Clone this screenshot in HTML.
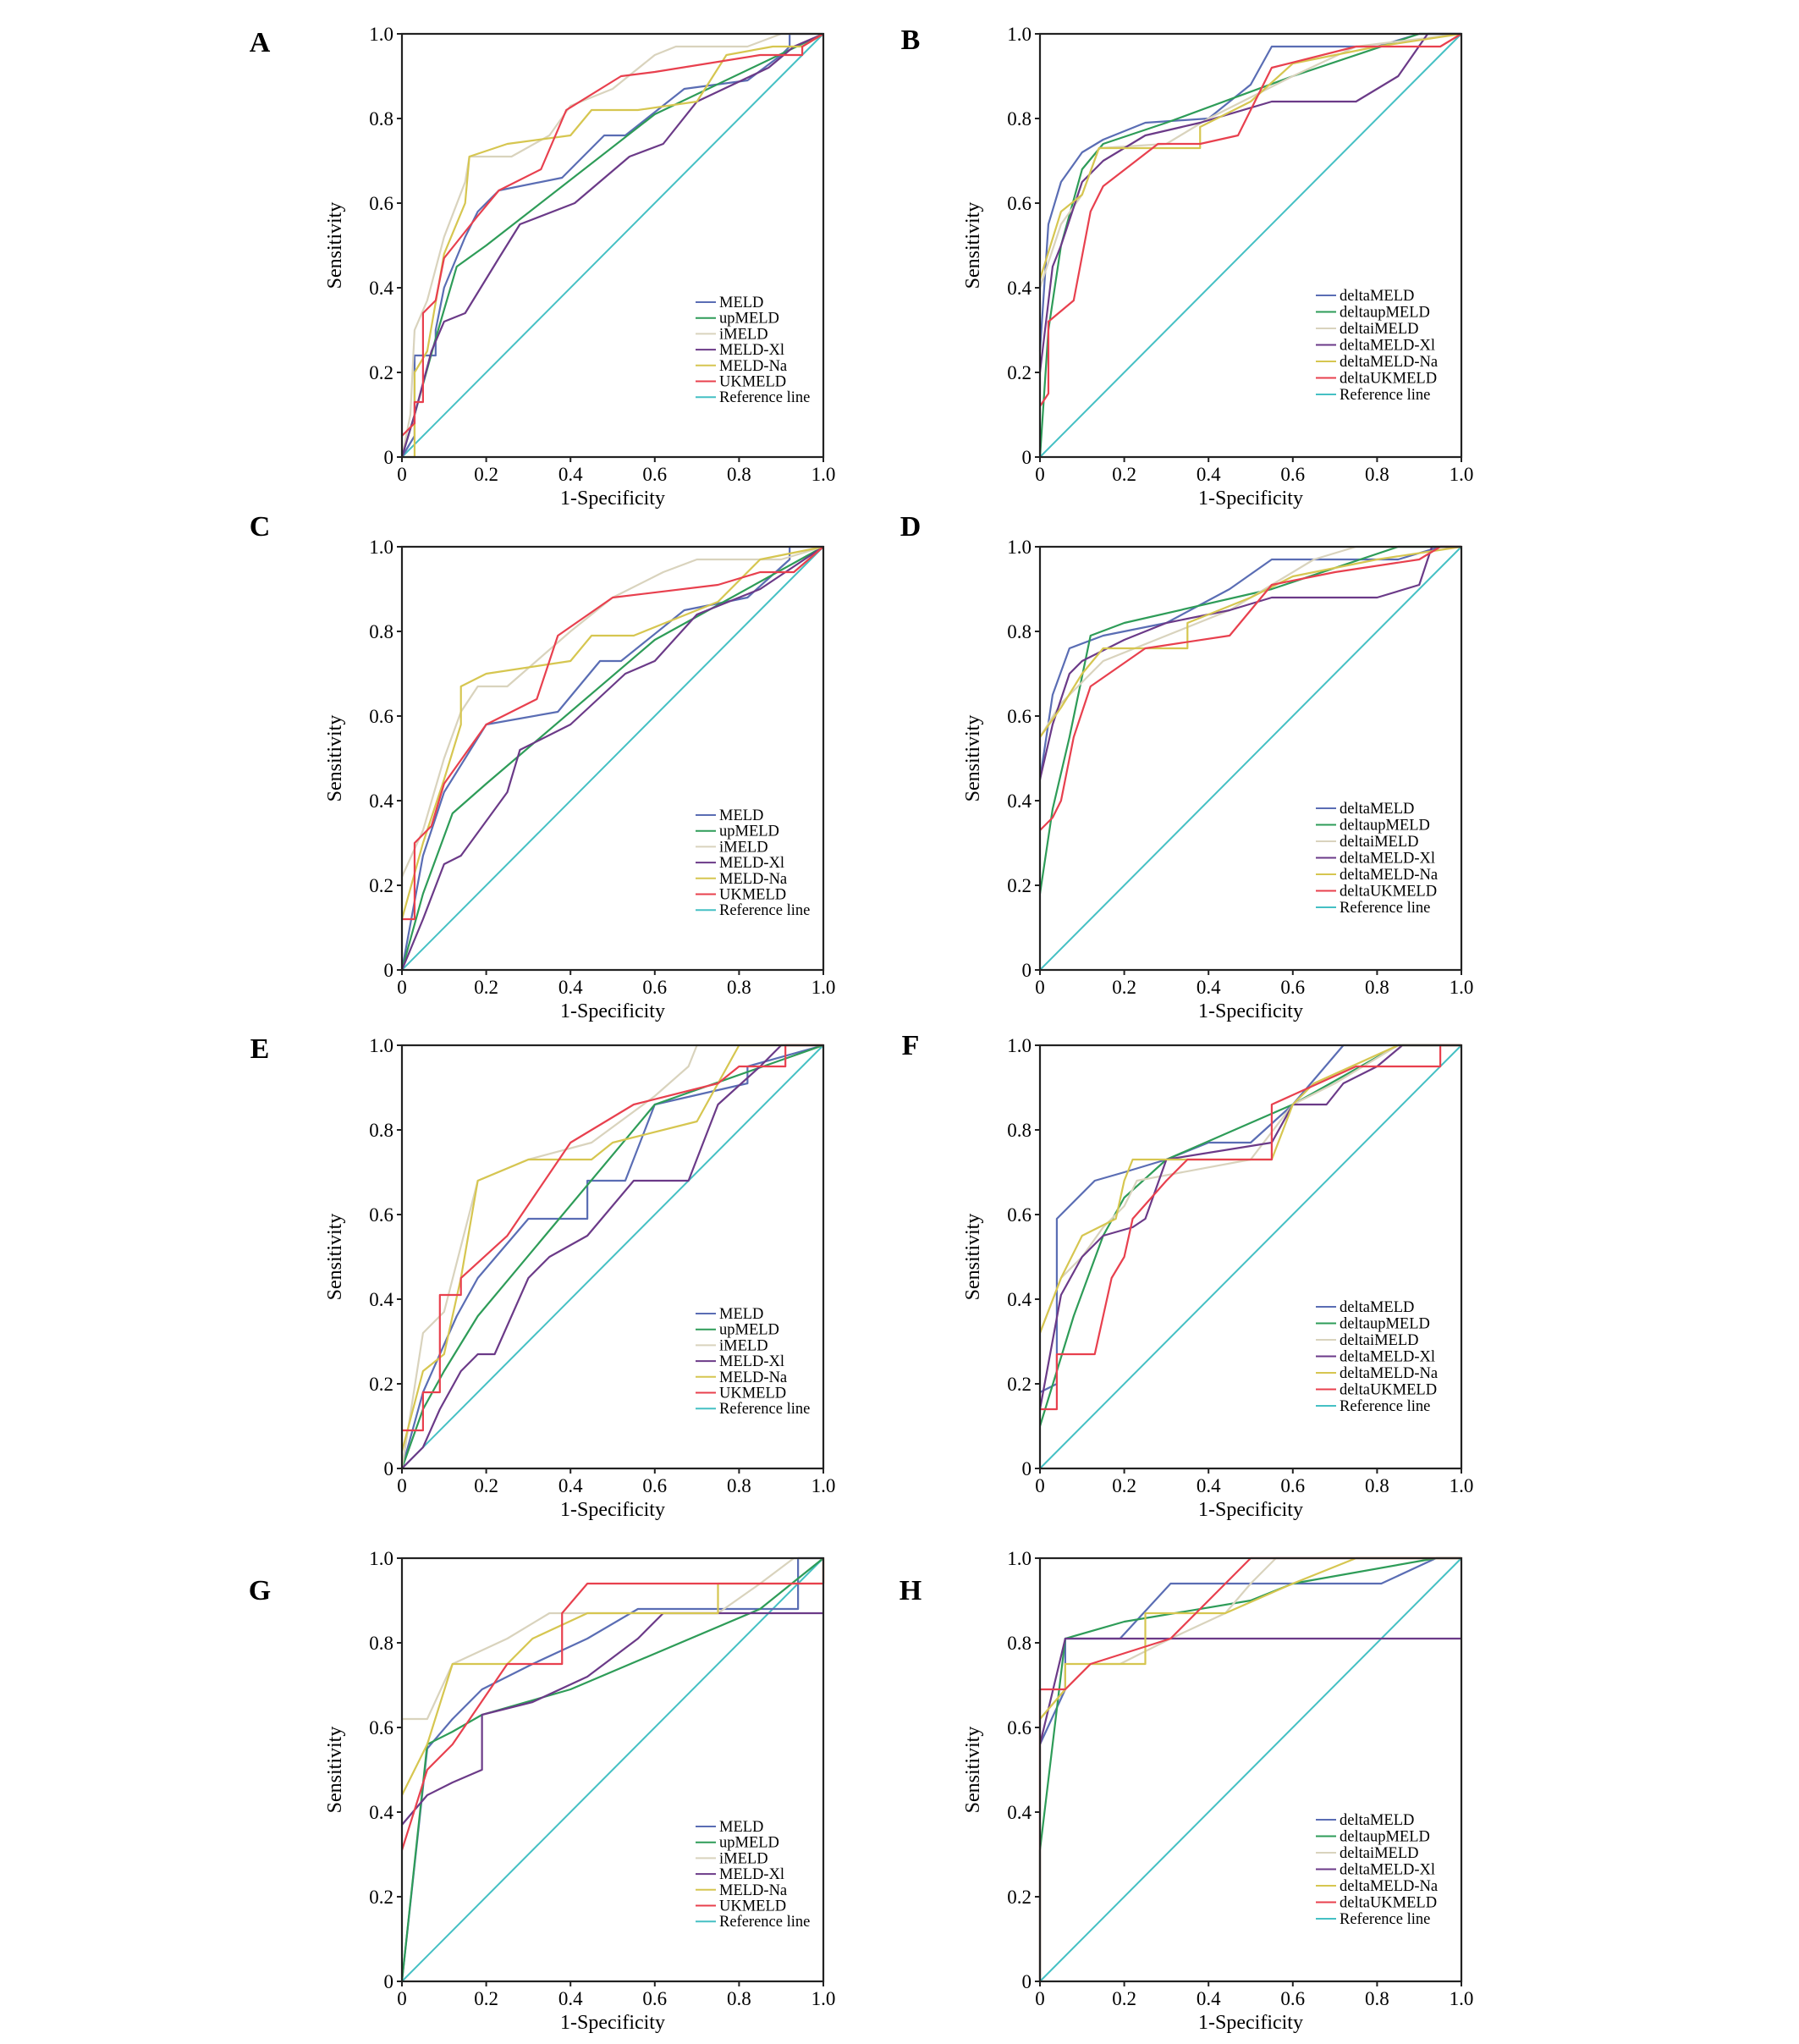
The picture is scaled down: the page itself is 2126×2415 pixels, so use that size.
<!DOCTYPE html>
<html><head><meta charset="utf-8">
<style>
html,body{margin:0;padding:0;background:#fff;}
svg{display:block;font-family:"Liberation Serif",serif;}
</style></head>
<body>
<svg id="fig" width="2126" height="2415" viewBox="0 0 2126 2415" xmlns="http://www.w3.org/2000/svg"></svg>
<script>
const ticks = [0, 0.2, 0.4, 0.6, 0.8, 1.0];
const tickLabels = ["0", "0.2", "0.4", "0.6", "0.8", "1.0"];
const leftNames = ["MELD","upMELD","iMELD","MELD-Xl","MELD-Na","UKMELD"];
const rightNames = ["deltaMELD","deltaupMELD","deltaiMELD","deltaMELD-Xl","deltaMELD-Na","deltaUKMELD"];
const colors = ["#5a6db4","#2e9c58","#d9d3bd","#6b3a88","#d6c650","#e8404e"];

const A_MELD = [[0,0],[.03,.05],[.03,.24],[.08,.24],[.08,.3],[.1,.4],[.15,.52],[.18,.58],[.23,.63],[.38,.66],[.48,.76],[.53,.76],[.67,.87],[.82,.89],[.9,.95],[.92,.97],[.92,1],[1,1]];
const A_UP = [[0,0],[.03,.1],[.08,.28],[.13,.45],[.2,.5],[.6,.81],[1,1]];
const A_I = [[0,0],[.02,.1],[.03,.3],[.06,.37],[.1,.52],[.15,.65],[.16,.71],[.26,.71],[.35,.76],[.4,.83],[.5,.87],[.6,.95],[.65,.97],[.82,.97],[.9,1],[1,1]];
const A_XI = [[0,0],[.03,.1],[.07,.25],[.1,.32],[.15,.34],[.23,.47],[.28,.55],[.41,.6],[.54,.71],[.62,.74],[.7,.84],[.87,.92],[.93,.97],[1,1]];
const A_NA = [[0,0],[.03,0],[.03,.2],[.06,.25],[.1,.48],[.15,.6],[.16,.71],[.25,.74],[.4,.76],[.45,.82],[.56,.82],[.7,.84],[.77,.95],[.88,.97],[.95,.97],[1,1]];
const A_UK = [[0,.05],[.03,.08],[.03,.13],[.05,.13],[.05,.34],[.08,.37],[.1,.47],[.18,.57],[.23,.63],[.33,.68],[.39,.82],[.52,.9],[.6,.91],[.85,.95],[.95,.95],[.95,.97],[1,1]];

const B_MELD = [[0,.25],[.02,.55],[.05,.65],[.1,.72],[.15,.75],[.25,.79],[.4,.8],[.5,.88],[.55,.97],[.8,.97],[.9,1],[1,1]];
const B_UP = [[0,0],[.02,.3],[.05,.5],[.1,.68],[.15,.74],[.3,.79],[.6,.9],[.9,1],[1,1]];
const B_I = [[0,.4],[.05,.55],[.1,.62],[.14,.73],[.3,.74],[.4,.8],[.6,.9],[.75,.97],[1,1]];
const B_XI = [[0,.2],[.03,.45],[.05,.5],[.1,.65],[.15,.7],[.25,.76],[.38,.79],[.55,.84],[.75,.84],[.85,.9],[.92,1],[1,1]];
const B_NA = [[0,.42],[.05,.58],[.1,.62],[.14,.73],[.38,.73],[.38,.78],[.5,.84],[.6,.93],[.8,.97],[1,1]];
const B_UK = [[0,.12],[.02,.15],[.02,.32],[.08,.37],[.12,.58],[.15,.64],[.28,.74],[.38,.74],[.47,.76],[.55,.92],[.75,.97],[.95,.97],[1,1]];

const C_MELD = [[0,0],[.05,.27],[.1,.42],[.2,.58],[.37,.61],[.47,.73],[.52,.73],[.67,.85],[.82,.88],[.92,.97],[.92,1],[1,1]];
const C_UP = [[0,0],[.05,.18],[.12,.37],[.2,.44],[.6,.78],[1,1]];
const C_I = [[0,.22],[.05,.33],[.1,.5],[.14,.61],[.18,.67],[.25,.67],[.4,.8],[.5,.88],[.62,.94],[.7,.97],[.9,.97],[1,1]];
const C_XI = [[0,0],[.05,.12],[.1,.25],[.14,.27],[.25,.42],[.28,.52],[.4,.58],[.53,.7],[.6,.73],[.7,.84],[.85,.9],[1,1]];
const C_NA = [[0,.12],[.05,.3],[.1,.45],[.14,.58],[.14,.67],[.2,.7],[.4,.73],[.45,.79],[.55,.79],[.75,.87],[.85,.97],[1,1]];
const C_UK = [[0,.12],[.03,.12],[.03,.3],[.07,.34],[.1,.44],[.2,.58],[.32,.64],[.37,.79],[.5,.88],[.75,.91],[.85,.94],[.93,.94],[1,1]];

const D_MELD = [[0,.45],[.03,.65],[.07,.76],[.15,.79],[.3,.82],[.45,.9],[.55,.97],[.85,.97],[.95,1],[1,1]];
const D_UP = [[0,.18],[.03,.38],[.07,.55],[.12,.79],[.2,.82],[.55,.9],[.85,1],[1,1]];
const D_I = [[0,.55],[.05,.63],[.1,.68],[.15,.73],[.3,.79],[.45,.85],[.65,.97],[.75,1],[1,1]];
const D_XI = [[0,.45],[.03,.58],[.07,.7],[.1,.73],[.2,.78],[.3,.82],[.45,.85],[.55,.88],[.8,.88],[.9,.91],[.93,1],[1,1]];
const D_NA = [[0,.55],[.05,.62],[.1,.7],[.15,.76],[.35,.76],[.35,.82],[.5,.88],[.6,.93],[.8,.97],[1,1]];
const D_UK = [[0,.33],[.03,.36],[.05,.4],[.08,.55],[.12,.67],[.25,.76],[.45,.79],[.55,.91],[.7,.94],[.9,.97],[.95,1],[1,1]];

const E_MELD = [[0,0],[.05,.18],[.09,.27],[.13,.36],[.18,.45],[.3,.59],[.44,.59],[.44,.68],[.53,.68],[.6,.86],[.82,.91],[.82,.95],[1,1]];
const E_UP = [[0,0],[.05,.14],[.1,.23],[.18,.36],[.6,.86],[1,1]];
const E_I = [[0,0],[.05,.32],[.1,.37],[.18,.68],[.3,.73],[.45,.77],[.6,.88],[.68,.95],[.7,1],[1,1]];
const E_XI = [[0,0],[.05,.05],[.09,.14],[.14,.23],[.18,.27],[.22,.27],[.3,.45],[.35,.5],[.44,.55],[.55,.68],[.68,.68],[.75,.86],[.85,.95],[.9,1],[1,1]];
const E_NA = [[0,.04],[.05,.23],[.1,.27],[.14,.45],[.18,.68],[.3,.73],[.45,.73],[.5,.77],[.7,.82],[.8,1],[1,1]];
const E_UK = [[0,.09],[.05,.09],[.05,.18],[.09,.18],[.09,.41],[.14,.41],[.14,.45],[.25,.55],[.4,.77],[.55,.86],[.75,.91],[.8,.95],[.91,.95],[.91,1],[1,1]];

const F_MELD = [[0,.18],[.04,.2],[.04,.59],[.13,.68],[.2,.7],[.3,.73],[.4,.77],[.5,.77],[.6,.86],[.72,1],[1,1]];
const F_UP = [[0,.1],[.08,.36],[.15,.55],[.2,.64],[.3,.73],[.6,.86],[.85,1],[1,1]];
const F_I = [[0,.32],[.05,.45],[.1,.5],[.15,.57],[.2,.62],[.23,.68],[.5,.73],[.6,.86],[.7,.91],[.85,1],[1,1]];
const F_XI = [[0,.14],[.05,.41],[.1,.5],[.15,.55],[.22,.57],[.25,.59],[.3,.73],[.55,.77],[.6,.86],[.68,.86],[.72,.91],[.8,.95],[.86,1],[1,1]];
const F_NA = [[0,.32],[.05,.45],[.1,.55],[.18,.59],[.2,.68],[.22,.73],[.55,.73],[.6,.86],[.65,.91],[.85,1],[1,1]];
const F_UK = [[0,.14],[.04,.14],[.04,.27],[.13,.27],[.17,.45],[.2,.5],[.22,.59],[.3,.68],[.35,.73],[.55,.73],[.55,.86],[.75,.95],[.95,.95],[.95,1],[1,1]];

const G_MELD = [[0,0],[.06,.55],[.12,.62],[.19,.69],[.31,.75],[.44,.81],[.56,.88],[.94,.88],[.94,1],[1,1]];
const G_UP = [[0,0],[.06,.56],[.12,.59],[.19,.63],[.4,.69],[.85,.88],[1,1]];
const G_I = [[0,.62],[.06,.62],[.12,.75],[.25,.81],[.35,.87],[.75,.87],[.85,.94],[.93,1],[1,1]];
const G_XI = [[0,.37],[.06,.44],[.12,.47],[.19,.5],[.19,.63],[.31,.66],[.44,.72],[.56,.81],[.62,.87],[1,.87]];
const G_NA = [[0,.44],[.06,.56],[.12,.75],[.25,.75],[.31,.81],[.44,.87],[.75,.87],[.75,.94],[1,.94],[1,1]];
const G_UK = [[0,.31],[.06,.5],[.12,.56],[.25,.75],[.38,.75],[.38,.87],[.44,.94],[1,.94],[1,1]];

const H_MELD = [[0,.56],[.06,.69],[.06,.81],[.19,.81],[.31,.94],[.81,.94],[.94,1],[1,1]];
const H_UP = [[0,0],[0,.31],[.06,.81],[.2,.85],[.5,.9],[.6,.94],[.94,1],[1,1]];
const H_I = [[0,.62],[.06,.69],[.12,.75],[.19,.75],[.31,.81],[.44,.87],[.5,.94],[.56,1],[1,1]];
const H_XI = [[0,.56],[.06,.81],[1,.81]];
const H_NA = [[0,.62],[.06,.69],[.06,.75],[.25,.75],[.25,.87],[.44,.87],[.6,.94],[.75,1],[1,1]];
const H_UK = [[0,0],[0,.69],[.06,.69],[.12,.75],[.31,.81],[.5,1],[1,1]];

const panels = [
 {id:"A",x:475,y:40,letterX:307,letterY:49,names:leftNames,series:[A_MELD,A_UP,A_I,A_XI,A_NA,A_UK]},
 {id:"B",x:1229,y:40,letterX:1076,letterY:46,names:rightNames,series:[B_MELD,B_UP,B_I,B_XI,B_NA,B_UK]},
 {id:"C",x:475,y:646,letterX:307,letterY:621,names:leftNames,series:[C_MELD,C_UP,C_I,C_XI,C_NA,C_UK]},
 {id:"D",x:1229,y:646,letterX:1076,letterY:621,names:rightNames,series:[D_MELD,D_UP,D_I,D_XI,D_NA,D_UK]},
 {id:"E",x:475,y:1235,letterX:307,letterY:1238,names:leftNames,series:[E_MELD,E_UP,E_I,E_XI,E_NA,E_UK]},
 {id:"F",x:1229,y:1235,letterX:1076,letterY:1234,names:rightNames,series:[F_MELD,F_UP,F_I,F_XI,F_NA,F_UK]},
 {id:"G",x:475,y:1841,letterX:307,letterY:1878,names:leftNames,series:[G_MELD,G_UP,G_I,G_XI,G_NA,G_UK]},
 {id:"H",x:1229,y:1841,letterX:1076,letterY:1878,names:rightNames,series:[H_MELD,H_UP,H_I,H_XI,H_NA,H_UK]}
];
const W = 498, H = 500;
const NS = "http://www.w3.org/2000/svg";
const svg = document.getElementById("fig");
function mk(tag, attrs, parent){
  const e = document.createElementNS(NS, tag);
  for (const k in attrs) e.setAttribute(k, attrs[k]);
  parent.appendChild(e);
  return e;
}
panels.forEach(p => {
  const g = mk("g", {}, svg);
  
  
  const sx = v => p.x + v * W;
  const sy = v => p.y + H - v * H;
  const letter = mk("text", {x: p.letterX, y: p.letterY + 12, "font-size": 34, "font-weight": "bold", "text-anchor": "middle"}, g);
  letter.textContent = p.id;
  
  
  const ref = mk("line", {x1: sx(0), y1: sy(0), x2: sx(1), y2: sy(1), stroke: "#45c0c4", "stroke-width": 2}, g);
  
  
  p.series.forEach((s, i) => {
    const pl = mk("polyline", {points: s.map(pt => sx(pt[0]) + "," + sy(pt[1])).join(" "), fill: "none", stroke: colors[i], "stroke-width": 2.2, "stroke-linejoin": "round"}, g);
    
    
  });
  const fr = mk("rect", {x: p.x, y: p.y, width: W, height: H, fill: "none", stroke: "#222", "stroke-width": 2.2}, g);
  
  
  ticks.forEach((t, i) => {
    mk("line", {x1: sx(t), y1: p.y + H, x2: sx(t), y2: p.y + H + 6, stroke: "#222", "stroke-width": 2}, g);
    mk("line", {x1: p.x - 6, y1: sy(t), x2: p.x, y2: sy(t), stroke: "#222", "stroke-width": 2}, g);
    const xt = mk("text", {x: sx(t), y: p.y + H + 28, "font-size": 23, "text-anchor": "middle"}, g);
    xt.textContent = tickLabels[i];
    
    
    const yt = mk("text", {x: p.x - 10, y: sy(t) + 8, "font-size": 23, "text-anchor": "end"}, g);
    yt.textContent = tickLabels[i];
    
    
  });
  const xl = mk("text", {x: p.x + W / 2, y: p.y + H + 56, "font-size": 24, "text-anchor": "middle"}, g);
  xl.textContent = "1-Specificity";
  
  
  const yl = mk("text", {x: 0, y: 0, "font-size": 24, "text-anchor": "middle", transform: "translate(" + (p.x - 72) + "," + (p.y + H / 2) + ") rotate(-90)"}, g);
  yl.textContent = "Sensitivity";
  
  
  const left = p.id.charCodeAt(0) % 2 === 1;
  const lx = left ? p.x + 347 : p.x + 326;
  const ly = left ? p.y + 317 : p.y + 309;
  const sp = left ? 18.7 : 19.5;
  const lg = mk("g", {}, g);
  
  
  const names = p.names.concat(["Reference line"]);
  const cols = colors.concat(["#45c0c4"]);
  names.forEach((n, i) => {
    const y = ly + i * sp;
    mk("line", {x1: lx, y1: y, x2: lx + 24, y2: y, stroke: cols[i], "stroke-width": 2}, lg);
    const t = mk("text", {x: lx + 28, y: y + 6, "font-size": 18.5}, lg);
    t.textContent = n;
    
    
  });
});
</script>
</body></html>
